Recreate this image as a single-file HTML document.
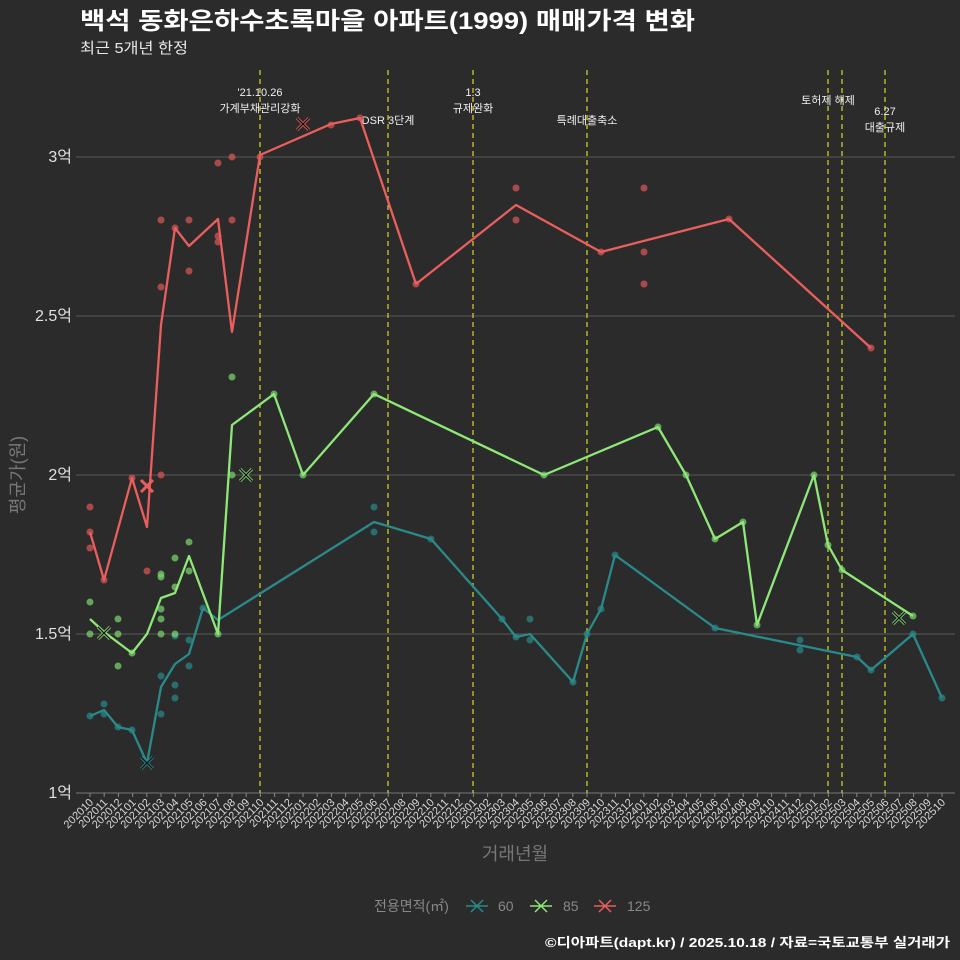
<!DOCTYPE html>
<html><head><meta charset="utf-8"><style>
body{margin:0;background:#2b2b2b;}
svg{display:block;font-family:"Liberation Sans","Noto Sans CJK KR",sans-serif;}
</style></head><body>
<svg width="960" height="960" viewBox="0 0 960 960" xmlns="http://www.w3.org/2000/svg">
<rect width="960" height="960" fill="#2b2b2b"/>
<text x="80" y="29" font-size="24" font-weight="bold" fill="#fff" textLength="615" lengthAdjust="spacingAndGlyphs">백석 동화은하수초록마을 아파트(1999) 매매가격 변화</text>
<text x="80" y="53" font-size="15" fill="#e8e8e8" textLength="108" lengthAdjust="spacingAndGlyphs">최근 5개년 한정</text>
<g stroke="#5a5a5a" stroke-width="1">
<line x1="76" x2="955" y1="157" y2="157"/><line x1="76" x2="955" y1="316" y2="316"/><line x1="76" x2="955" y1="475" y2="475"/><line x1="76" x2="955" y1="634" y2="634"/><line x1="76" x2="955" y1="793" y2="793" stroke="#777"/>
</g>
<g font-size="16" fill="#e0e0e0" text-anchor="end">
<text x="72" y="162">3억</text><text x="72" y="321">2.5억</text><text x="72" y="480">2억</text><text x="72" y="639">1.5억</text><text x="72" y="798">1억</text>
</g>
<text transform="translate(24,475) rotate(-90)" font-size="18" fill="#777" text-anchor="middle">평균가(원)</text>
<g stroke="#cccc22" stroke-width="1.3" stroke-dasharray="5,4">
<line x1="260" x2="260" y1="70" y2="793"/><line x1="388" x2="388" y1="70" y2="793"/><line x1="473" x2="473" y1="70" y2="793"/><line x1="587" x2="587" y1="70" y2="793"/><line x1="828" x2="828" y1="70" y2="793"/><line x1="842" x2="842" y1="70" y2="793"/><line x1="885" x2="885" y1="70" y2="793"/>
</g>
<g font-size="11" fill="#f0f0f0" text-anchor="middle">
<text x="260" y="96">'21.10.26</text><text x="260" y="112">가계부채관리강화</text>
<text x="388" y="124">DSR 3단계</text>
<text x="473" y="96">1.3</text><text x="473" y="112">규제완화</text>
<text x="587" y="124">특례대출축소</text>
<text x="828" y="104">토허제 해제</text>
<text x="885" y="115">6.27</text><text x="885" y="131">대출규제</text>
</g>
<g fill="#2a8a8a" fill-opacity="0.7">
<circle cx="90" cy="716" r="3.5"/><circle cx="104" cy="704" r="3.5"/><circle cx="104" cy="714" r="3.5"/><circle cx="118" cy="727" r="3.5"/><circle cx="132" cy="730" r="3.5"/><circle cx="161" cy="676" r="3.5"/><circle cx="161" cy="714" r="3.5"/><circle cx="175" cy="685" r="3.5"/><circle cx="175" cy="698" r="3.5"/><circle cx="175" cy="636" r="3.5"/><circle cx="189" cy="666" r="3.5"/><circle cx="189" cy="640" r="3.5"/><circle cx="203" cy="608" r="3.5"/><circle cx="374" cy="507" r="3.5"/><circle cx="374" cy="532" r="3.5"/><circle cx="431" cy="539" r="3.5"/><circle cx="502" cy="619" r="3.5"/><circle cx="516" cy="637" r="3.5"/><circle cx="530" cy="619" r="3.5"/><circle cx="530" cy="640" r="3.5"/><circle cx="573" cy="682" r="3.5"/><circle cx="587" cy="634" r="3.5"/><circle cx="601" cy="609" r="3.5"/><circle cx="615" cy="555" r="3.5"/><circle cx="715" cy="628" r="3.5"/><circle cx="800" cy="640" r="3.5"/><circle cx="800" cy="650" r="3.5"/><circle cx="857" cy="657" r="3.5"/><circle cx="871" cy="670" r="3.5"/><circle cx="913" cy="634" r="3.5"/><circle cx="942" cy="698" r="3.5"/>
</g>
<g fill="#7ed870" fill-opacity="0.7">
<circle cx="90" cy="602" r="3.5"/><circle cx="90" cy="634" r="3.5"/><circle cx="118" cy="619" r="3.5"/><circle cx="118" cy="634" r="3.5"/><circle cx="118" cy="666" r="3.5"/><circle cx="132" cy="653" r="3.5"/><circle cx="161" cy="574" r="3.5"/><circle cx="161" cy="577" r="3.5"/><circle cx="161" cy="609" r="3.5"/><circle cx="161" cy="619" r="3.5"/><circle cx="161" cy="634" r="3.5"/><circle cx="175" cy="558" r="3.5"/><circle cx="175" cy="587" r="3.5"/><circle cx="175" cy="634" r="3.5"/><circle cx="189" cy="542" r="3.5"/><circle cx="189" cy="571" r="3.5"/><circle cx="218" cy="634" r="3.5"/><circle cx="232" cy="377" r="3.5"/><circle cx="232" cy="475" r="3.5"/><circle cx="274" cy="394" r="3.5"/><circle cx="303" cy="475" r="3.5"/><circle cx="374" cy="394" r="3.5"/><circle cx="544" cy="475" r="3.5"/><circle cx="658" cy="427" r="3.5"/><circle cx="686" cy="475" r="3.5"/><circle cx="715" cy="539" r="3.5"/><circle cx="743" cy="522" r="3.5"/><circle cx="757" cy="625" r="3.5"/><circle cx="814" cy="475" r="3.5"/><circle cx="828" cy="545" r="3.5"/><circle cx="842" cy="570" r="3.5"/><circle cx="913" cy="616" r="3.5"/>
</g>
<g fill="#e05858" fill-opacity="0.7">
<circle cx="90" cy="507" r="3.5"/><circle cx="90" cy="532" r="3.5"/><circle cx="90" cy="548" r="3.5"/><circle cx="104" cy="580" r="3.5"/><circle cx="132" cy="478" r="3.5"/><circle cx="147" cy="571" r="3.5"/><circle cx="161" cy="220" r="3.5"/><circle cx="161" cy="287" r="3.5"/><circle cx="161" cy="475" r="3.5"/><circle cx="175" cy="228" r="3.5"/><circle cx="189" cy="220" r="3.5"/><circle cx="189" cy="271" r="3.5"/><circle cx="218" cy="163" r="3.5"/><circle cx="218" cy="236" r="3.5"/><circle cx="218" cy="242" r="3.5"/><circle cx="232" cy="157" r="3.5"/><circle cx="232" cy="220" r="3.5"/><circle cx="260" cy="157" r="3.5"/><circle cx="331" cy="125" r="3.5"/><circle cx="360" cy="118" r="3.5"/><circle cx="416" cy="284" r="3.5"/><circle cx="516" cy="188" r="3.5"/><circle cx="516" cy="220" r="3.5"/><circle cx="601" cy="252" r="3.5"/><circle cx="644" cy="188" r="3.5"/><circle cx="644" cy="252" r="3.5"/><circle cx="644" cy="284" r="3.5"/><circle cx="729" cy="219" r="3.5"/><circle cx="871" cy="348" r="3.5"/>
</g>
<g fill="none" stroke-width="2.3" stroke-linejoin="round">
<polyline stroke="#2a8a8a" points="90,716 104,710 118,727 132,730 147,763 161,687 175,664 189,654 203,608 218,620 374,522 431,539 502,619 516,637 530,634 573,682 587,634 601,609 615,555 715,628 857,657 871,670 913,634 942,698"/>
<polyline stroke="#8ee878" points="90,619 104,632 132,653 147,634 161,598 175,593 189,556 218,634 232,425 274,394 303,475 374,394 544,475 658,427 686,475 715,539 743,522 757,625 814,475 828,545 842,570 913,616"/>
<polyline stroke="#ea5e5e" points="90,532 104,580 132,478 147,527 161,325 175,228 189,246 218,219 232,332 260,155 331,124 360,118 416,284 516,205 601,252 729,219 871,348"/>
</g>
<g stroke-width="3">
<path d="M141,757 l12,12 M153,757 l-12,12" stroke="#2a8a8a"/>
<path d="M98,627 l12,12 M110,627 l-12,12" stroke="#8ee878"/>
<path d="M240,469 l12,12 M252,469 l-12,12" stroke="#8ee878"/>
<path d="M893,612 l12,12 M905,612 l-12,12" stroke="#8ee878"/>
<path d="M141,480 l12,12 M153,480 l-12,12" stroke="#ea5e5e"/>
<path d="M297,118 l12,12 M309,118 l-12,12" stroke="#ea5e5e"/>
</g>
<g stroke-width="1.3" stroke="#111">
<path d="M141,757 l12,12 M153,757 l-12,12"/>
<path d="M98,627 l12,12 M110,627 l-12,12"/>
<path d="M240,469 l12,12 M252,469 l-12,12"/>
<path d="M893,612 l12,12 M905,612 l-12,12"/>
<path d="M297,118 l12,12 M309,118 l-12,12"/>
</g>
<g stroke="#888" stroke-width="1">
<path d="M90,793v4M104.2,793v4M118.4,793v4M132.6,793v4M146.8,793v4M161,793v4M175.2,793v4M189.4,793v4M203.6,793v4M217.8,793v4M232,793v4M246.2,793v4M260.4,793v4M274.6,793v4M288.8,793v4M303,793v4M317.2,793v4M331.4,793v4M345.6,793v4M359.8,793v4M374,793v4M388.2,793v4M402.4,793v4M416.6,793v4M430.8,793v4M445,793v4M459.2,793v4M473.4,793v4M487.6,793v4M501.8,793v4M516,793v4M530.2,793v4M544.4,793v4M558.6,793v4M572.8,793v4M587,793v4M601.2,793v4M615.4,793v4M629.6,793v4M643.8,793v4M658,793v4M672.2,793v4M686.4,793v4M700.6,793v4M714.8,793v4M729,793v4M743.2,793v4M757.4,793v4M771.6,793v4M785.8,793v4M800,793v4M814.2,793v4M828.4,793v4M842.6,793v4M856.8,793v4M871,793v4M885.2,793v4M899.4,793v4M913.6,793v4M927.8,793v4M942,793v4"/>
</g>
<g font-size="11" fill="#d8d8d8" text-anchor="end">
<text transform="translate(94,803) rotate(-45)">202010</text>
<text transform="translate(108.2,803) rotate(-45)">202011</text>
<text transform="translate(122.4,803) rotate(-45)">202012</text>
<text transform="translate(136.6,803) rotate(-45)">202101</text>
<text transform="translate(150.8,803) rotate(-45)">202102</text>
<text transform="translate(165,803) rotate(-45)">202103</text>
<text transform="translate(179.2,803) rotate(-45)">202104</text>
<text transform="translate(193.4,803) rotate(-45)">202105</text>
<text transform="translate(207.6,803) rotate(-45)">202106</text>
<text transform="translate(221.8,803) rotate(-45)">202107</text>
<text transform="translate(236,803) rotate(-45)">202108</text>
<text transform="translate(250.2,803) rotate(-45)">202109</text>
<text transform="translate(264.4,803) rotate(-45)">202110</text>
<text transform="translate(278.6,803) rotate(-45)">202111</text>
<text transform="translate(292.8,803) rotate(-45)">202112</text>
<text transform="translate(307,803) rotate(-45)">202201</text>
<text transform="translate(321.2,803) rotate(-45)">202202</text>
<text transform="translate(335.4,803) rotate(-45)">202203</text>
<text transform="translate(349.6,803) rotate(-45)">202204</text>
<text transform="translate(363.8,803) rotate(-45)">202205</text>
<text transform="translate(378,803) rotate(-45)">202206</text>
<text transform="translate(392.2,803) rotate(-45)">202207</text>
<text transform="translate(406.4,803) rotate(-45)">202208</text>
<text transform="translate(420.6,803) rotate(-45)">202209</text>
<text transform="translate(434.8,803) rotate(-45)">202210</text>
<text transform="translate(449,803) rotate(-45)">202211</text>
<text transform="translate(463.2,803) rotate(-45)">202212</text>
<text transform="translate(477.4,803) rotate(-45)">202301</text>
<text transform="translate(491.6,803) rotate(-45)">202302</text>
<text transform="translate(505.8,803) rotate(-45)">202303</text>
<text transform="translate(520,803) rotate(-45)">202304</text>
<text transform="translate(534.2,803) rotate(-45)">202305</text>
<text transform="translate(548.4,803) rotate(-45)">202306</text>
<text transform="translate(562.6,803) rotate(-45)">202307</text>
<text transform="translate(576.8,803) rotate(-45)">202308</text>
<text transform="translate(591,803) rotate(-45)">202309</text>
<text transform="translate(605.2,803) rotate(-45)">202310</text>
<text transform="translate(619.4,803) rotate(-45)">202311</text>
<text transform="translate(633.6,803) rotate(-45)">202312</text>
<text transform="translate(647.8,803) rotate(-45)">202401</text>
<text transform="translate(662,803) rotate(-45)">202402</text>
<text transform="translate(676.2,803) rotate(-45)">202403</text>
<text transform="translate(690.4,803) rotate(-45)">202404</text>
<text transform="translate(704.6,803) rotate(-45)">202405</text>
<text transform="translate(718.8,803) rotate(-45)">202406</text>
<text transform="translate(733,803) rotate(-45)">202407</text>
<text transform="translate(747.2,803) rotate(-45)">202408</text>
<text transform="translate(761.4,803) rotate(-45)">202409</text>
<text transform="translate(775.6,803) rotate(-45)">202410</text>
<text transform="translate(789.8,803) rotate(-45)">202411</text>
<text transform="translate(804,803) rotate(-45)">202412</text>
<text transform="translate(818.2,803) rotate(-45)">202501</text>
<text transform="translate(832.4,803) rotate(-45)">202502</text>
<text transform="translate(846.6,803) rotate(-45)">202503</text>
<text transform="translate(860.8,803) rotate(-45)">202504</text>
<text transform="translate(875,803) rotate(-45)">202505</text>
<text transform="translate(889.2,803) rotate(-45)">202506</text>
<text transform="translate(903.4,803) rotate(-45)">202507</text>
<text transform="translate(917.6,803) rotate(-45)">202508</text>
<text transform="translate(931.8,803) rotate(-45)">202509</text>
<text transform="translate(946,803) rotate(-45)">202510</text>
</g>
<text x="515" y="860" font-size="18" fill="#777" text-anchor="middle">거래년월</text>
<g font-size="14" fill="#888">
<text x="374" y="911">전용면적(㎡)</text>
<path d="M466,906h22M471,900l12,12M483,900l-12,12" stroke="#2a8a8a" stroke-width="1.5"/>
<text x="498" y="911">60</text>
<path d="M530,906h22M535,900l12,12M547,900l-12,12" stroke="#8ee878" stroke-width="1.5"/>
<text x="563" y="911">85</text>
<path d="M594,906h22M599,900l12,12M611,900l-12,12" stroke="#ea5e5e" stroke-width="1.5"/>
<text x="627" y="911">125</text>
</g>
<text x="545" y="947" font-size="13" font-weight="bold" fill="#fff" textLength="405" lengthAdjust="spacingAndGlyphs">©디아파트(dapt.kr) / 2025.10.18 / 자료=국토교통부 실거래가</text>
</svg>
</body></html>
